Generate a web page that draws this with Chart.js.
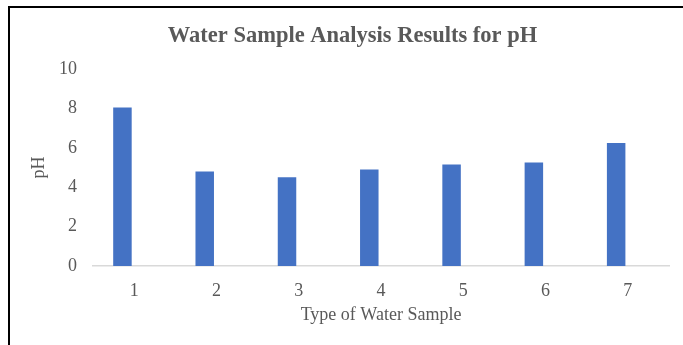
<!DOCTYPE html>
<html>
<head>
<meta charset="utf-8">
<script src="https://cdn.jsdelivr.net/npm/chart.js@4.4.1/dist/chart.umd.min.js"></script>
<style>
  html, body { margin: 0; padding: 0; background: #fff; }
  body { width: 683px; height: 345px; overflow: hidden; position: relative; }
  #frame {
    position: absolute; left: 8px; top: 6px; width: 675px; height: 339px;
    border-top: 2px solid #000; border-left: 2px solid #000;
  }
  #chartBox { position: absolute; left: 0; top: 0; width: 673px; height: 337px; }
</style>
</head>
<body>
<div id="frame"><div id="chartBox"><canvas id="phChart"></canvas></div></div>
<script>
// Chart data
const SAMPLE_TYPES = ["1", "2", "3", "4", "5", "6", "7"];
const PH_VALUES = [8.05, 4.8, 4.5, 4.9, 5.15, 5.25, 6.25];
const Y_TICKS = [0, 2, 4, 6, 8, 10];

const TEXT_COLOR = "#595959";
const BAR_COLOR = "#4472C4";
const SERIF = "'Liberation Serif', 'Times New Roman', serif";

const ctx = document.getElementById("phChart").getContext("2d");

new Chart(ctx, {
  type: "bar",
  data: {
    labels: SAMPLE_TYPES,
    datasets: [
      {
        label: "pH",
        data: PH_VALUES,
        backgroundColor: BAR_COLOR,
      },
      // empty slot so the bar sits left of the tick, as in the source
      {
        label: "",
        data: SAMPLE_TYPES.map(() => null),
        backgroundColor: "rgba(0,0,0,0)",
      },
    ],
  },
  options: {
    responsive: true,
    maintainAspectRatio: false,
    animation: false,
    categoryPercentage: 0.569,
    barPercentage: 0.79,
    layout: { padding: { left: 26, right: 14, top: 8, bottom: 0 } },
    plugins: {
      legend: { display: false },
      tooltip: { enabled: false },
      title: {
        display: true,
        text: "Water Sample Analysis Results for pH",
        color: TEXT_COLOR,
        font: { family: SERIF, size: 22.5, weight: "bold" },
        padding: { top: 6.5, bottom: 19.5 },
      },
    },
    scales: {
      x: {
        afterFit: (scale) => {
          scale.height = 79;
        },
        grid: { display: false, drawTicks: false },
        border: { display: true, color: "#d9d9d9", width: 1.5 },
        ticks: {
          color: TEXT_COLOR,
          font: { family: SERIF, size: 18 },
          padding: 14,
        },
        title: {
          display: true,
          text: "Type of Water Sample",
          color: TEXT_COLOR,
          font: { family: SERIF, size: 18 },
          padding: { top: 0, bottom: 19 },
        },
      },
      y: {
        min: 0,
        max: 10,
        afterBuildTicks: (scale) => {
          scale.ticks = Y_TICKS.map((v) => ({ value: v }));
        },
        afterFit: (scale) => {
          scale.width = 57;
        },
        grid: { display: false, drawTicks: false },
        border: { display: false },
        ticks: {
          color: TEXT_COLOR,
          font: { family: SERIF, size: 18 },
          padding: 16,
        },
        title: {
          display: true,
          text: "pH",
          color: TEXT_COLOR,
          font: { family: SERIF, size: 18 },
          padding: { top: -7.8, bottom: 0 },
        },
      },
    },
  },
});
</script>
</body>
</html>
